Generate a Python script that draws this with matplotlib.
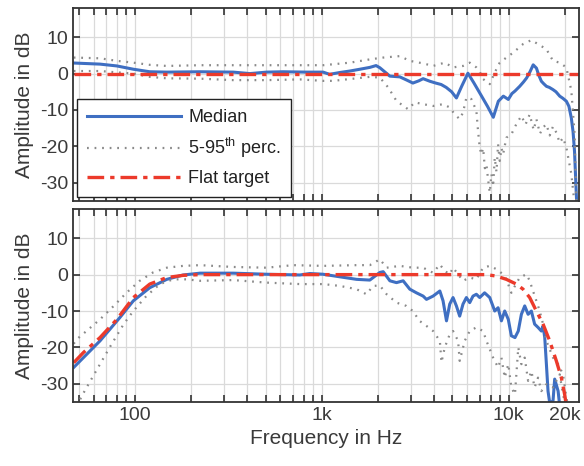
import numpy as np
import matplotlib
matplotlib.use('Agg')
import matplotlib.pyplot as plt
from matplotlib.ticker import FixedLocator, NullFormatter

plt.rcParams['font.family'] = ['Liberation Sans', 'DejaVu Sans']
plt.rcParams['mathtext.fontset'] = 'custom'
plt.rcParams['mathtext.rm'] = 'Liberation Sans'
plt.rcParams['axes.unicode_minus'] = False

# ---- top panel (flat target) ----
top_med_f = [47, 65, 80, 98, 120, 148, 223, 336, 412, 506, 621, 828, 1016, 1100, 1250, 1412,
             1600, 1806, 1950, 2044, 2312, 2613, 2850, 3070, 3300, 3483, 3780, 4065, 4350, 4630,
             4950, 5250, 5600, 6050, 6500, 7160, 7700, 8270, 8800, 9360, 9950, 10400, 10800,
             11450, 12000, 12470, 13000, 13520, 14070, 14500, 14950, 15400, 15920, 16500, 17250,
             17900, 18750, 19500, 20350, 21000, 21630, 22100, 22500, 23130]
top_med_db = [2.9, 2.6, 2.1, 1.2, 0.5, 0.4, 0.5, 0.4, 0.0, 0.4, 0.5, 0.4, 0.4, -0.2, 0.3, 0.7,
              1.2, 1.7, 2.2, 1.6, -0.7, -0.9, -1.8, -2.6, -2.0, -1.4, -2.1, -2.6, -3.0, -3.8,
              -5.0, -6.7, -3.5, 0.1, -2.5, -6.2, -9.0, -12.0, -7.6, -6.2, -7.1, -5.5, -4.8,
              -3.5, -2.3, -1.2, 0.5, 2.4, 1.5, -0.5, -2.1, -2.8, -3.5, -3.8, -4.4,
              -5.0, -6.2, -6.8, -7.6, -9.0, -12.2, -16.0, -21.4, -36.0]

top_hi_f = [47, 65, 80, 98, 120, 148, 223, 336, 506, 763, 1016, 1412, 1806, 2130, 2613, 2956,
            3483, 3938, 4548, 5036, 5694, 6185, 6712, 7000, 7290, 7915, 8418, 8953, 9718, 10540,
            11930, 13220, 14350, 15910, 17260, 18740, 20340, 21630, 22530, 23010]
top_hi_db = [4.4, 4.2, 3.5, 3.0, 2.4, 2.1, 2.3, 2.3, 2.3, 2.3, 2.3, 3.0, 3.9, 4.4, 4.8, 3.5,
             2.8, 2.1, 3.0, 1.7, 2.1, 3.0, 1.7, 0.5, -1.5, -2.9, 0.3, 3.0, 4.4, 5.7,
             8.1, 9.2, 8.1, 6.7, 3.5, 3.0, 1.7, -4.7, -16.7, -36.0]

top_lo_f = [47, 65, 98, 120, 148, 223, 336, 506, 763, 1016, 1149, 1412, 1806, 2044, 2265, 2508,
            2895, 3143, 3483, 3938, 4453, 4835, 5140, 5466, 5694, 5937, 6313, 6712, 6852, 6995,
            7141, 7300, 7450, 7596, 7750, 7915, 8080, 8250, 8418, 8600, 8772, 8953, 9150, 9328,
            9718, 10330, 10980, 11690, 12300, 12950, 13600, 14060, 14700, 15270, 15910, 16570,
            17260, 17980, 18740, 19530, 20340, 21630, 22530]
top_lo_db = [0.7, 0.7, 0.0, -0.9, -1.3, -1.4, -1.8, -1.8, -1.6, -2.0, -2.0, -1.5, -0.9, -1.1, -3.8, -7.5,
             -9.8, -7.9, -8.4, -8.9, -8.4, -9.3, -11.2, -12.5, -10.7, -6.6, -7.0, -10.2, -15.7, -20.3,
             -22.2, -20.5, -26.0, -24.9, -29.0, -32.7, -27.6, -31.0, -23.1, -27.0, -19.4, -24.0, -20.5, -22.2,
             -17.6, -16.7, -13.9, -11.6, -14.0, -11.2, -15.5, -12.5, -16.5, -14.8, -13.9, -17.0,
             -14.5, -16.2, -19.0, -17.6, -20.3, -27.6, -36.0]

top_flat_f = [47, 23700]
top_flat_db = [0.0, 0.0]

# ---- bottom panel (band-limited target) ----
bot_med_f = [47, 65, 83, 98, 120, 148, 181, 223, 336, 506, 763, 863, 1016, 1248, 1533, 1806,
             2044, 2130, 2312, 2508, 2723, 2956, 3207, 3483, 3630, 3938, 4280, 4453, 4645, 4835,
             5036, 5249, 5466, 5694, 5937, 6185, 6440, 6712, 6995, 7430, 7915, 8418, 8772, 9140,
             9520, 9950, 10330, 10800, 11250, 11690, 12180, 12700, 13220, 13760, 14350, 14950,
             15270, 15590, 15910, 16230, 16570, 17260, 17620, 18380, 18740]
bot_med_db = [-25.5, -18.2, -11.8, -7.2, -3.6, -1.3, -0.1, 0.4, 0.4, 0.1, -0.1, 0.3, 0.1, -0.6, -1.3, -1.5,
              0.6, 0.8, -1.7, -2.2, -1.7, -4.0, -5.0, -5.9, -6.8, -5.9, -4.5, -7.2, -12.7, -8.1,
              -6.3, -8.6, -11.4, -8.1, -6.3, -7.7, -5.9, -5.4, -6.3, -5.0, -6.3, -10.0, -9.1, -12.7,
              -10.0, -12.3, -16.8, -17.3, -15.5, -10.9, -8.6, -10.9, -10.0, -13.6, -14.5, -15.5,
              -14.1, -17.3, -24.6, -32.0, -35.2, -34.7, -28.7, -32.0, -36.0]

bot_hi_f = [47, 49, 55, 65, 77, 90, 106, 125, 148, 181, 223, 336, 506, 703, 1016, 1533, 1806,
            2044, 2222, 2613, 3070, 3483, 3938, 4280, 4548, 4835, 5036, 5694, 6185, 6712, 7290,
            7915, 8590, 9328, 9718, 10330, 10800, 11450, 12440, 12950, 13490, 14060, 14650,
            15270, 15910, 17260, 18380, 19530, 20340, 21000]
bot_hi_db = [-19.0, -17.7, -15.5, -12.3, -8.6, -5.0, -1.7, 0.6, 1.9, 2.4, 2.6, 2.1, 1.9, 2.6, 2.4, 2.6, 2.6,
             4.2, 1.9, 2.4, 1.9, 1.9, 0.5, 2.8, 1.0, 0.1, 1.9, -1.7, -0.8, -1.3, 1.9,
             2.4, 1.5, 0.1, -1.3, -5.0, -3.1, -0.8, 0.1, -1.7, -4.5, -7.2, -10.0,
             -13.6, -18.2, -22.8, -24.6, -27.4, -33.8, -37.0]

bot_lo_f = [47, 52, 57, 65, 74, 87, 98, 115, 136, 160, 189, 223, 336, 506, 763, 1016, 1248, 1533,
            1734, 1879, 2044, 2222, 2508, 2833, 3070, 3330, 3630, 3938, 4280, 4366, 4548, 4835,
            5036, 5360, 5466, 5815, 6185, 6712, 7290, 7600, 8250, 8772, 9140, 9520, 9950, 10330,
            10800, 11250, 11690, 12180, 12700, 13220, 13760, 14350, 14950, 15910, 17260, 18740,
            19530, 20140]
bot_lo_db = [-38.0, -33.3, -29.7, -24.6, -19.6, -13.6, -10.0, -5.9, -2.6, -1.3, -1.3, -1.7, -1.5, -2.2, -2.6, -2.6, -3.1, -4.0,
             -5.4, -3.1, -3.0, -5.4, -7.7, -8.6, -10.0, -12.7, -14.1, -15.5, -18.2, -24.1, -20.0, -16.4,
             -15.5, -18.2, -23.7, -18.2, -15.5, -14.5, -15.5, -18.2, -22.8, -25.5, -22.8, -28.3, -24.6, -31.0,
             -32.9, -20.0, -24.6, -22.8, -29.2, -26.5, -31.0, -28.3, -32.0, -30.1, -31.0, -27.4,
             -32.9, -36.0]

bot_flat_f = [47, 53, 65, 80, 98, 120, 148, 181, 223, 1000, 7596, 8590, 9718, 10980, 11930,
              12950, 14060, 15270, 16570, 17980, 19130, 19920, 20340]
bot_flat_db = [-24.2, -21.4, -17.3, -12.3, -6.3, -2.6, -0.8, -0.2, 0.0, 0.0, 0.0, -0.4, -1.3, -2.6, -4.0,
               -6.3, -10.0, -13.6, -18.2, -23.7, -28.3, -32.9, -36.0]

xtick_vals = [100, 1000, 10000, 20000]
xtick_labels = ['100', '1k', '10k', '20k']
minor_vals = [50, 60, 70, 80, 90, 200, 300, 400, 500, 600, 700, 800, 900,
              2000, 3000, 4000, 5000, 6000, 7000, 8000, 9000]
ytick_vals = [-30, -20, -10, 0, 10]

blue = '#3f6fc2'
red = '#ec3a2b'
gray = '#8a8a8a'
dark = '#333333'

fig = plt.figure(figsize=(5.84, 4.66), dpi=100)
ax1 = fig.add_axes([0.125, 0.5687, 0.866, 0.414])
ax2 = fig.add_axes([0.125, 0.1373, 0.866, 0.414])


def style(ax):
    ax.set_xscale('log')
    ax.set_xlim(46.6, 23700)
    ax.set_ylim(-35, 18)
    ax.set_yticks(ytick_vals)
    ax.xaxis.set_major_locator(FixedLocator(xtick_vals))
    ax.xaxis.set_minor_locator(FixedLocator(minor_vals))
    ax.xaxis.set_minor_formatter(NullFormatter())
    ax.set_xticklabels(xtick_labels)
    ax.set_axisbelow(True)
    ax.grid(True, which='both', color='#dadada', lw=0.9)
    ax.tick_params(which='both', direction='in', top=True, right=True, length=5,
                   width=1.2, color=dark, labelsize=14, labelcolor='#3a3a3a')
    for s in ax.spines.values():
        s.set_color(dark)
        s.set_linewidth(1.3)
    ax.set_ylabel('Amplitude in dB', fontsize=15, color='#3a3a3a', labelpad=4)


def draw(ax, mf, mdb, hf, hdb, lf, ldb, ff, fdb):
    l1, = ax.plot(mf, mdb, color=blue, lw=2.2, label='Median')
    l2, = ax.plot(hf, hdb, color=gray, lw=1.6, linestyle=(0, (0.8, 2.6)),
                  label='5-95$^{\\mathrm{th}}$ perc.')
    ax.plot(lf, ldb, color=gray, lw=1.6, linestyle=(0, (0.8, 2.6)))
    l3, = ax.plot(ff, fdb, color=red, lw=2.4, linestyle=(0, (5.0, 1.8, 1.3, 1.8)),
                  label='Flat target')
    return l1, l2, l3


style(ax1)
style(ax2)
h = draw(ax1, top_med_f, top_med_db, top_hi_f, top_hi_db, top_lo_f, top_lo_db,
         top_flat_f, top_flat_db)
draw(ax2, bot_med_f, bot_med_db, bot_hi_f, bot_hi_db, bot_lo_f, bot_lo_db,
     bot_flat_f, bot_flat_db)
ax1.tick_params(labelbottom=False)
ax2.set_xlabel('Frequency in Hz', fontsize=15, color='#3a3a3a', labelpad=4)

leg = ax1.legend(handles=list(h), loc='lower left', bbox_to_anchor=(0.008, 0.02),
                 borderaxespad=0, fontsize=13, handlelength=5.2, handletextpad=0.4,
                 labelspacing=0.55, borderpad=0.55, fancybox=False, framealpha=1,
                 edgecolor='#222222')
leg.get_frame().set_linewidth(1.0)
for t in leg.get_texts():
    t.set_color('#222222')

fig.savefig('out.png', dpi=100)
